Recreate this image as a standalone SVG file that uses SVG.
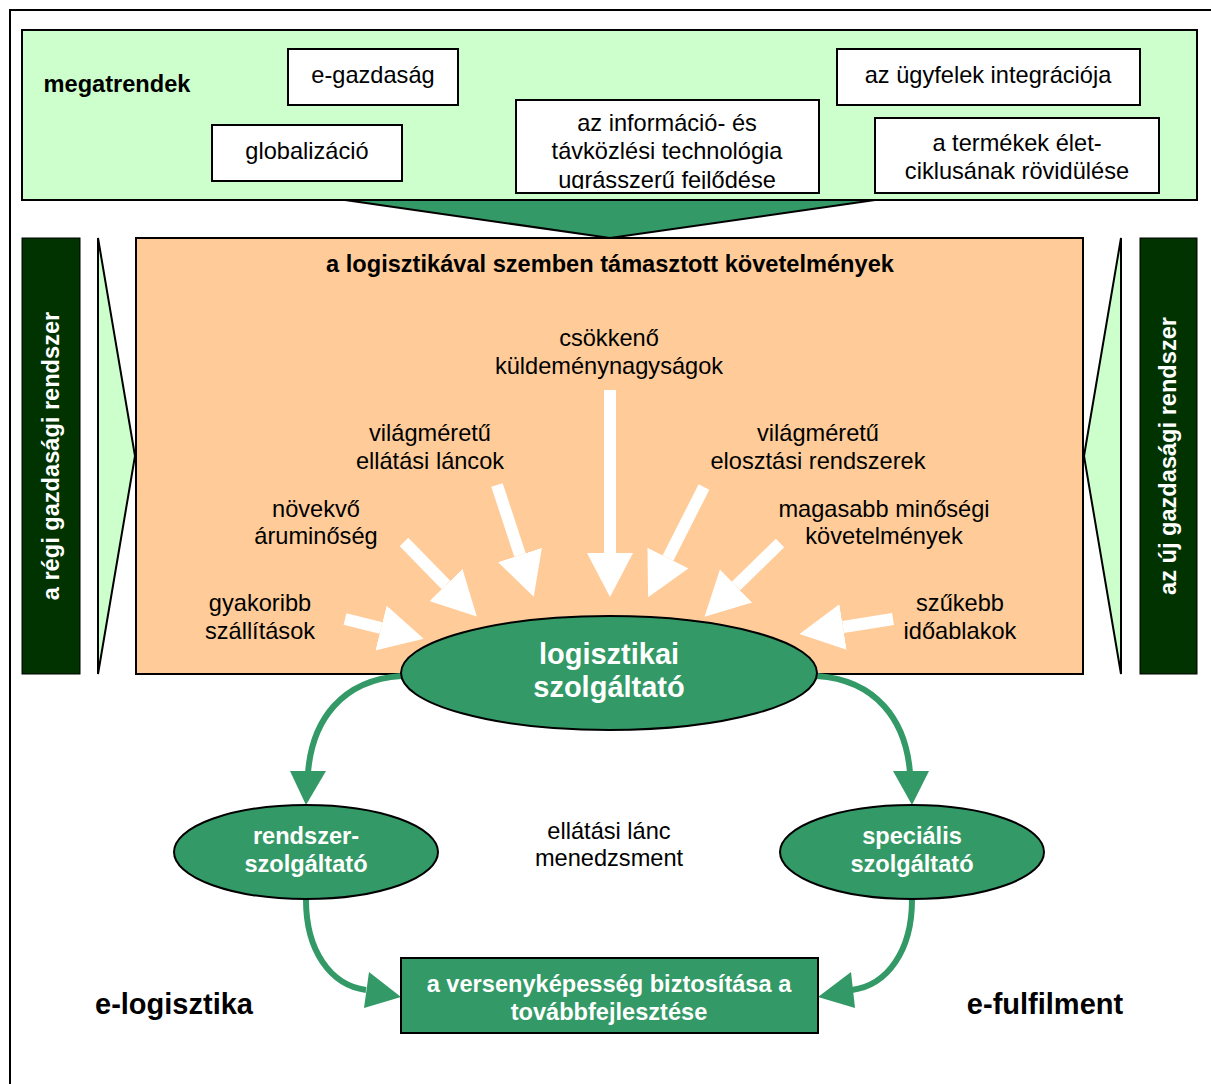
<svg xmlns="http://www.w3.org/2000/svg" width="1211" height="1084" viewBox="0 0 1211 1084">
<defs>
<style>
.t{font-family:"Liberation Sans",Arial,sans-serif;font-size:23.6px;fill:#000;text-anchor:middle}
.b{font-weight:bold}
.w{fill:#fff;font-weight:bold}
.big{font-size:29px}
.box{fill:#fff;stroke:#000;stroke-width:2}
.g{fill:#339966;stroke:#000;stroke-width:2}
.lt{fill:#ccffcc;stroke:#000;stroke-width:2}
.dk{fill:#003300;stroke:#000;stroke-width:1}
.wa{stroke:#fff;stroke-width:12;fill:none}
.gc{stroke:#339966;stroke-width:6;fill:none}
.gh{fill:#339966}
</style>
<marker id="wh" viewBox="0 0 44 46" refX="0" refY="23" markerWidth="44" markerHeight="46" markerUnits="userSpaceOnUse" orient="auto">
<path d="M0,0 L44,23 L0,46 z" fill="#fff"/>
</marker>
<clipPath id="clipInfo"><rect x="517" y="101" width="301" height="88"/></clipPath>
</defs>
<rect x="10" y="10" width="1215" height="1090" fill="#fff" stroke="#000" stroke-width="2"/>

<g id="megatrendek">
<rect x="22" y="30" width="1175" height="170" fill="#ccffcc" stroke="#000" stroke-width="2"/>
<text class="t b" x="117" y="92">megatrendek</text>
</g>
<g id="e-gazdasag">
<rect class="box" x="288" y="49" width="170" height="56"/>
<text class="t" x="373" y="83">e-gazdaság</text>
</g>
<g id="globalizacio">
<rect class="box" x="212" y="125" width="190" height="56"/>
<text class="t" x="307" y="159">globalizáció</text>
</g>
<g id="informacio">
<rect class="box" x="516" y="100" width="303" height="93"/>
<g clip-path="url(#clipInfo)">
<text class="t" x="667" y="131">az információ- és</text>
<text class="t" x="667" y="159">távközlési technológia</text>
<text class="t" x="667" y="188">ugrásszerű fejlődése</text>
</g>
</g>
<g id="ugyfelek">
<rect class="box" x="837" y="49" width="303" height="56"/>
<text class="t" x="988" y="83">az ügyfelek integrációja</text>
</g>
<g id="termekek">
<rect class="box" x="875" y="118" width="284" height="75"/>
<text class="t" x="1017" y="151">a termékek élet-</text>
<text class="t" x="1017" y="179">ciklusának rövidülése</text>
</g>
<g id="funnel">
<polygon class="g" points="345,200 875,200 610,238"/>
</g>

<g id="regi">
<rect class="dk" x="22" y="238" width="58" height="436"/>
<text class="t w" transform="translate(59,456) rotate(-90)">a régi gazdasági rendszer</text>
<polygon class="lt" points="98,238 135,456 98,674"/>
</g>
<g id="uj">
<rect class="dk" x="1140" y="238" width="57" height="436"/>
<text class="t w" transform="translate(1176,456) rotate(-90)">az új gazdasági rendszer</text>
<polygon class="lt" points="1121,238 1084,456 1121,674"/>
</g>

<g id="kovetelmenyek">
<rect x="136" y="238" width="947" height="436" fill="#ffcc99" stroke="#000" stroke-width="2"/>
<text class="t b" x="610" y="272">a logisztikával szemben támasztott követelmények</text>
<text class="t" x="609" y="346">csökkenő</text>
<text class="t" x="609" y="374">küldeménynagyságok</text>
<text class="t" x="430" y="441">világméretű</text>
<text class="t" x="430" y="469">ellátási láncok</text>
<text class="t" x="818" y="441">világméretű</text>
<text class="t" x="818" y="469">elosztási rendszerek</text>
<text class="t" x="316" y="517">növekvő</text>
<text class="t" x="316" y="544">áruminőség</text>
<text class="t" x="884" y="517">magasabb minőségi</text>
<text class="t" x="884" y="544">követelmények</text>
<text class="t" x="260" y="611">gyakoribb</text>
<text class="t" x="260" y="639">szállítások</text>
<text class="t" x="960" y="611">szűkebb</text>
<text class="t" x="960" y="639">időablakok</text>
</g>

<g id="connectors">
<line class="wa" x1="610" y1="390" x2="610" y2="553" marker-end="url(#wh)"/>
<line class="wa" x1="497" y1="485" x2="520" y2="555" marker-end="url(#wh)"/>
<line class="wa" x1="704" y1="487" x2="668" y2="558" marker-end="url(#wh)"/>
<line class="wa" x1="404" y1="542" x2="446" y2="585" marker-end="url(#wh)"/>
<line class="wa" x1="780" y1="543" x2="736" y2="586" marker-end="url(#wh)"/>
<line class="wa" x1="345" y1="619" x2="381" y2="628" marker-end="url(#wh)"/>
<line class="wa" x1="893" y1="619" x2="843" y2="627" marker-end="url(#wh)"/>

<path class="gc" d="M401,676 C342,680 312,720 308,773"/>
<polygon class="gh" points="290,771 326,771 306,805"/>
<path class="gc" d="M817,676 C876,680 906,720 910,773"/>
<polygon class="gh" points="893,771 929,771 912,805"/>
<path class="gc" d="M306,900 C306,950 330,985 366,990"/>
<polygon class="gh" points="369,972 364,1008 401,997"/>
<path class="gc" d="M912,900 C912,950 888,985 852,990"/>
<polygon class="gh" points="851,972 855,1008 818,997"/>
</g>

<g id="logisztikai">
<ellipse class="g" cx="609" cy="673" rx="208" ry="57"/>
<text class="t w big" x="609" y="664">logisztikai</text>
<text class="t w big" x="609" y="697">szolgáltató</text>
</g>
<g id="rendszer">
<ellipse class="g" cx="306" cy="852" rx="132" ry="47"/>
<text class="t w" x="306" y="844">rendszer-</text>
<text class="t w" x="306" y="872">szolgáltató</text>
</g>
<g id="specialis">
<ellipse class="g" cx="912" cy="852" rx="132" ry="47"/>
<text class="t w" x="912" y="844">speciális</text>
<text class="t w" x="912" y="872">szolgáltató</text>
</g>
<g id="scm">
<text class="t" x="609" y="839">ellátási lánc</text>
<text class="t" x="609" y="866">menedzsment</text>
</g>
<g id="versenykepesseg">
<rect class="g" x="401" y="958" width="417" height="75"/>
<text class="t w" x="609" y="992">a versenyképesség biztosítása a</text>
<text class="t w" x="609" y="1020">továbbfejlesztése</text>
</g>
<g id="elog">
<text class="t b big" x="174" y="1014">e-logisztika</text>
</g>
<g id="eful">
<text class="t b big" x="1045" y="1014">e-fulfilment</text>
</g>
</svg>
